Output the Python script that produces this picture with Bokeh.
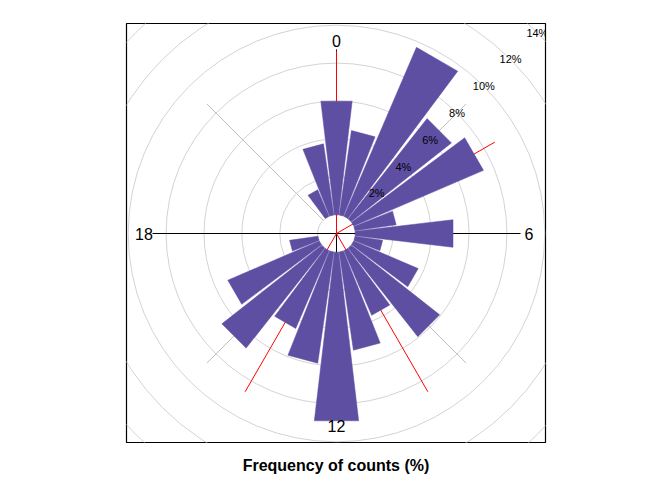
import numpy as np
from bokeh.plotting import figure
from bokeh.models import Range1d, FixedTicker, LinearAxis
from bokeh.core.properties import value
from bokeh.embed import file_html
from bokeh.resources import INLINE

# ---- data ----
hours = list(range(24))
freq_pct = [6.04, 4.50, 9.70, 6.73, 7.45, 2.19, 5.20, 1.47, 3.70, 5.94, 3.71, 5.23,
            8.96, 5.92, 4.46, 6.71, 5.25, 1.51, 0.0, 0.0, 0.0, 0.0, 1.52, 3.79]
grid_pct = [0, 2, 4, 6, 8, 10, 12, 14, 16]
grid_labels = ["2%", "4%", "6%", "8%", "10%", "12%", "14%"]
grid_label_pct = [2, 4, 6, 8, 10, 12, 14]
hour_tick_labels = ["0", "6", "12", "18"]
hour_tick_hours = [0, 6, 12, 18]
diag_hours = [3, 9, 15, 21]
red_hours = [0, 4, 10, 14]
red_len_pct = 8.65
axis_len_pct = 8.72

# ---- polar geometry (pixel-like data units) ----
OFF = 18.8      # hole radius (0 %)
SCALE = 18.95   # units per percent
HALF = np.deg2rad(6.75)
FONT_NAME = "Liberation Sans"
FONT = value(FONT_NAME)


def rad(p):
    return OFF + SCALE * np.asarray(p, dtype=float)


def ang(h):
    return np.deg2rad(np.asarray(h, dtype=float) * 15.0)


p = figure(width=664, height=472, frame_width=419, frame_height=419,
           x_range=Range1d(-210, 209), y_range=Range1d(-209, 210),
           x_axis_type=None, y_axis_type=None,
           output_backend="svg", toolbar_location=None,
           min_border_left=126, min_border_right=119,
           min_border_top=23, min_border_bottom=30)
p.outline_line_color = "black"
p.outline_line_width = 1.2
p.background_fill_color = "white"
p.border_fill_color = "white"

# axis only used for the caption below the panel
ax = LinearAxis(ticker=FixedTicker(ticks=[]), axis_line_color=None,
                major_tick_line_color=None, minor_tick_line_color=None,
                major_tick_out=0, major_tick_in=0, minor_tick_out=0,
                major_label_standoff=0,
                axis_label="Frequency of counts (%)",
                axis_label_text_font=FONT_NAME,
                axis_label_text_font_size="16px",
                axis_label_text_font_style="bold",
                axis_label_text_color="black",
                axis_label_standoff=14)
p.add_layout(ax, "below")

# grid rings
p.circle(x=[0] * len(grid_pct), y=[0] * len(grid_pct), radius=rad(grid_pct),
         fill_color=None, line_color="#D3D3D3", line_width=1)

# diagonal grey axis lines
diag = ang(diag_hours)
L = float(rad(axis_len_pct)) - 1
p.multi_line(xs=[[OFF * np.sin(a), L * np.sin(a)] for a in diag],
             ys=[[OFF * np.cos(a), L * np.cos(a)] for a in diag],
             line_color="#BEBEBE", line_width=1)

# black cross lines
La = float(rad(axis_len_pct))
p.multi_line(xs=[[-La, La], [0, 0]], ys=[[0, 0], [-La, La]],
             line_color="black", line_width=1)

# red lines
Lr = float(rad(red_len_pct))
ra = ang(red_hours)
p.multi_line(xs=[[0, Lr * np.sin(a)] for a in ra],
             ys=[[0, Lr * np.cos(a)] for a in ra],
             line_color="red", line_width=1)

# petals
xs, ys = [], []
for h, f in zip(hours, freq_pct):
    if f <= 0:
        continue
    a = float(ang(h))
    r0, r1 = OFF, float(rad(f))
    angs = [a - HALF, a + HALF, a + HALF, a - HALF]
    rs = [r0, r0, r1, r1]
    xs.append([r * np.sin(t) for r, t in zip(rs, angs)])
    ys.append([r * np.cos(t) for r, t in zip(rs, angs)])
p.patches(xs=xs, ys=ys, fill_color="#5E4FA2", line_color="#5E4FA2", line_width=0.5)

# percentage labels along 45 degrees
lr = rad(grid_label_pct)
d45 = np.deg2rad(45)
p.text(x=lr * np.sin(d45), y=lr * np.cos(d45), text=grid_labels,
       text_font=FONT, text_font_size="11px", text_color="black",
       text_align="center", text_baseline="middle")

# hour labels
hr = 192.5
ha = ang(hour_tick_hours)
p.text(x=hr * np.sin(ha), y=hr * np.cos(ha), text=hour_tick_labels,
       text_font=FONT, text_font_size="16px", text_color="black",
       text_align="center", text_baseline="middle")

open("out.html", "w").write(file_html(p, INLINE))
